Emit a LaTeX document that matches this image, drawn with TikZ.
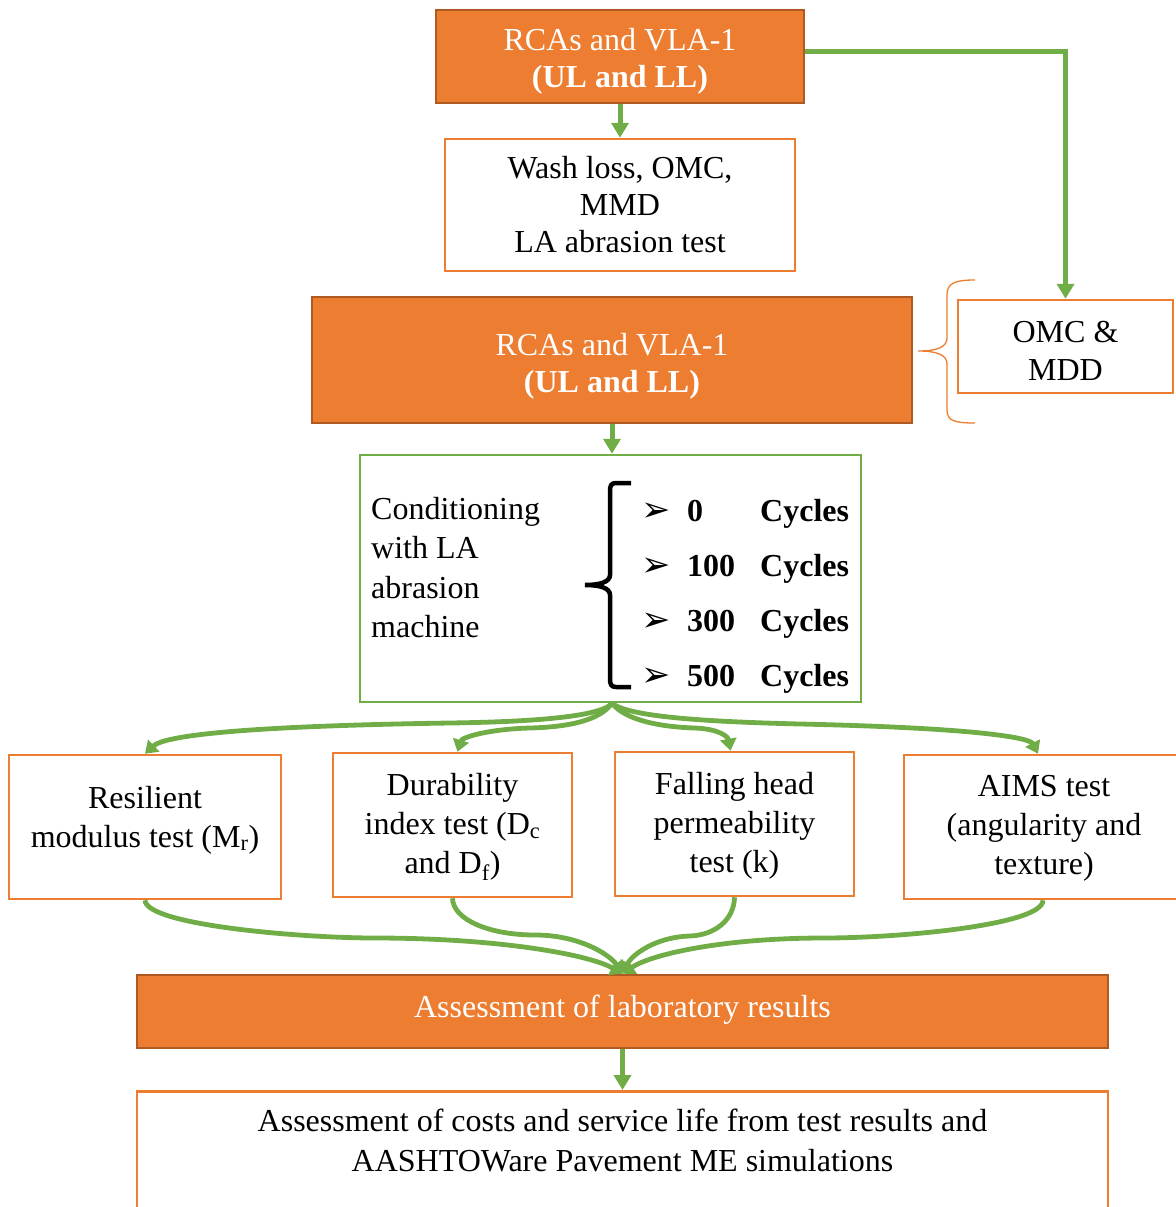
\documentclass[tikz,border=0pt]{standalone}
\usepackage{fontspec}
\setmainfont{Liberation Serif}
\newfontfamily\dejavu{DejaVu Sans}
\usetikzlibrary{arrows.meta,calc}
\definecolor{orng}{HTML}{ED7D31}
\definecolor{orngdk}{HTML}{AE5A21}
\definecolor{grn}{HTML}{70AD47}
\newcommand{\bul}{\makebox[46pt][l]{\dejavu\fontsize{35}{35}\selectfont ➢}}
\begin{document}
\begin{tikzpicture}[x=1pt,y=-1pt,
 every node/.style={font=\fontsize{32}{39}\selectfont, inner sep=0pt},
 obox/.style={draw=orngdk, fill=orng, line width=2.5pt},
 otext/.style={text=white, align=center, font=\fontsize{32}{37}\selectfont},
 wbox/.style={draw=orng, fill=white, line width=2.5pt, align=center},
 gbox/.style={draw=grn, fill=white, line width=2.5pt},
 conn/.style={draw=grn, line width=5pt, -{Triangle[width=17pt,length=15pt]}},
 carr/.style={draw=grn, line width=4.8pt, -{Triangle[width=16pt,length=12pt]}},
 brc/.style={draw=orng, line width=1.3pt},
 tbrc/.style={draw=black, line width=4.5pt},
]
\useasboundingbox (0,0) rectangle (1175,1207);

% boxes
\node[obox, minimum width=368pt, minimum height=93pt] (top) at (620,56.5) {};
\node[otext] (toptxt) at ([yshift=-5pt]top.center) {RCAs and VLA-1\\\textbf{(UL and LL)}};
\node[wbox, minimum width=350pt, minimum height=132pt, font=\fontsize{32}{37}\selectfont] (wash) at (620,205) {Wash loss, OMC,\\MMD\\LA abrasion test};
\node[obox, minimum width=600pt, minimum height=126pt] (mid) at (612,360) {};
\node[otext] (midtxt) at ([yshift=-6pt]mid.center) {RCAs and VLA-1\\\textbf{(UL and LL)}};
\node[wbox, minimum width=215pt, minimum height=93pt] (omc) at (1065.5,346.5) {};
\node[align=center, font=\fontsize{32}{38}\selectfont] (omctxt) at ([yshift=-4pt]omc.center) {OMC \&\\MDD};

\node[gbox, minimum width=501pt, minimum height=247pt] (cond) at (610.5,578.5) {};
\node[anchor=north west, align=left, font=\fontsize{32}{39.5}\selectfont] (condtxt) at (371,497) {Conditioning\\with LA\\abrasion\\machine};
\node[anchor=base west] (cy0) at (641,521) {\bul\makebox[73pt][l]{\textbf{0}}\textbf{Cycles}};
\node[anchor=base west] (cy1) at (641,576) {\bul\makebox[73pt][l]{\textbf{100}}\textbf{Cycles}};
\node[anchor=base west] (cy2) at (641,631) {\bul\makebox[73pt][l]{\textbf{300}}\textbf{Cycles}};
\node[anchor=base west] (cy3) at (641,686) {\bul\makebox[73pt][l]{\textbf{500}}\textbf{Cycles}};

\node[wbox, minimum width=272pt, minimum height=144pt] (res) at (145,827) {};
\node[align=center] (restxt) at (145,820) {Resilient\\modulus test (M\textsubscript{r})};
\node[wbox, minimum width=239pt, minimum height=144pt] (dur) at (452.5,825) {};
\node[align=center] (durtxt) at (452.5,827) {Durability\\index test (D\textsubscript{c}\\and D\textsubscript{f})};
\node[wbox, minimum width=239pt, minimum height=144pt] (fall) at (734.5,824) {};
\node[align=center] (falltxt) at (734.5,826) {Falling head\\permeability\\test (k)};
\node[wbox, minimum width=280pt, minimum height=144pt] (aims) at (1044,827) {};
\node[align=center] (aimstxt) at (1044,828) {AIMS test\\(angularity and\\texture)};

\node[obox, minimum width=971pt, minimum height=73pt] (lab) at (622.5,1011.5) {};
\node[otext] (labtxt) at ([yshift=2pt]lab.center) {Assessment of laboratory results};
\node[wbox, minimum width=971pt, minimum height=140pt, anchor=north] (bot) at (622.5,1090) {};
\node[align=center, anchor=north, font=\fontsize{32}{40}\selectfont] (bottxt) at (622.5,1109) {Assessment of costs and service life from test results and\\AASHTOWare Pavement ME simulations};

% braces
\draw[brc] (975,280) .. controls (955,280) and (947,283) .. (947,295) -- (947,338) .. controls (947,348) and (935,351) .. (918,351) .. controls (935,351) and (947,354) .. (947,364) -- (947,410) .. controls (947,421) and (955,423) .. (975,423);
\draw[tbrc] (631,483) -- (616,483) .. controls (611,483) and (610,486) .. (610,491) -- (610,575) .. controls (610,582) and (600,585) .. (585,585) .. controls (600,585) and (610,588) .. (610,595) -- (610,679) .. controls (610,684) and (611,687) .. (616,687) -- (631,687);

% straight connectors
\draw[conn] (top.south) -- (wash.north);
\draw[conn] ([yshift=5pt]top.east) -| (omc.north);
\draw[conn] (mid.south) -- (mid.south |- cond.north);
\draw[conn] (lab.south) -- (bot.north);

% diverging curved arrows
\draw[carr] ([xshift=1.5pt]cond.south) .. controls (600,718) and (520,722) .. (450,723) .. controls (250,726) and (165,735) .. (res.north);
\draw[carr] ([xshift=1.5pt]cond.south) .. controls (600,720) and (570,727) .. (530,728) .. controls (490,729) and (462,737) .. ([xshift=5pt]dur.north);
\draw[carr] ([xshift=1.5pt]cond.south) .. controls (625,720) and (660,727) .. (695,728) .. controls (720,729) and (728,737) .. ([xshift=-4pt]fall.north);
\draw[carr] ([xshift=1.5pt]cond.south) .. controls (630,718) and (720,722) .. (800,724) .. controls (980,728) and (1030,738) .. ([xshift=-6pt]aims.north);

% converging curved arrows
\draw[carr] (res.south) .. controls (146,925) and (300,938) .. (375,938) .. controls (500,938) and (590,955) .. (lab.north);
\draw[carr] (dur.south) .. controls (453,920) and (490,935) .. (535,935) .. controls (580,935) and (610,955) .. (lab.north);
\draw[carr] (fall.south) .. controls (734,920) and (715,935) .. (690,936) .. controls (655,937) and (632,955) .. (lab.north);
\draw[carr] ([xshift=-1pt]aims.south) .. controls (1043,925) and (900,938) .. (824,938) .. controls (720,938) and (650,955) .. (lab.north);
\end{tikzpicture}
\end{document}
